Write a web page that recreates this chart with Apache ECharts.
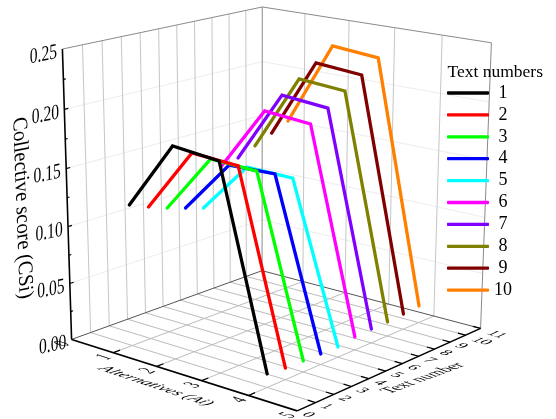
<!DOCTYPE html>
<html><head><meta charset="utf-8">
<style>html,body{margin:0;padding:0;background:#fff}#c{width:556px;height:419px}</style>
<script src="https://cdn.jsdelivr.net/npm/echarts@6/dist/echarts.min.js"></script></head>
<body><div id="c"></div>
<script>
// ---- data ----
const alternatives = [1, 2, 3, 4];
const textNumbers = ['1','2','3','4','5','6','7','8','9','10'];
const text1  = [0.1231, 0.1814, 0.1776, 0.0115];
const text2  = [0.1164, 0.1712, 0.1690, 0.0100];
const text3  = [0.1106, 0.1617, 0.1602, 0.0096];
const text4  = [0.1056, 0.1520, 0.1531, 0.0092];
const text5  = [0.1006, 0.1457, 0.1450, 0.0090];
const text6  = [0.1325, 0.1897, 0.1864, 0.0116];
const text7  = [0.1360, 0.1994, 0.1958, 0.0125];
const text8  = [0.1424, 0.2095, 0.2064, 0.0127];
const text9  = [0.1498, 0.2197, 0.2163, 0.0139];
const text10 = [0.1566, 0.2310, 0.2273, 0.0153];
const allSeries = [text1,text2,text3,text4,text5,text6,text7,text8,text9,text10];
const colors = ['#000000','#ff0000','#00ff00','#0000ff','#00ffff','#ff00ff','#8000ff','#808000','#800000','#ff8000'];
const zTicks = ['0.00','0.05','0.10','0.15','0.20','0.25'];
const aTicks = ['0','1','2','3','4','5'];
const tTicks = ['0','1','2','3','4','5','6','7','8','9','10','11'];
const AMAX = 5, TMAX = 11, ZMAX = 0.25;
// ---- view: perspective camera of the 3D box ----
const P = [198.55342,218.93267,-12.11932,71.59855,34.12505,-39.33231,-292.67307,339.40955,-0.09089,0.10858,-0.04707];
function pr(A,T,Z){
  const a=A/AMAX,t=T/TMAX,c=Z/ZMAX,w=P[8]*a+P[9]*t+P[10]*c+1;
  return [(P[0]*a+P[1]*t+P[2]*c+P[3])/w,(P[4]*a+P[5]*t+P[6]*c+P[7])/w];
}
function seg(p,q){return [...pr(...p),...pr(...q)];}
// ---- grid segments ----
const wallV=[],wallH=[],floorG=[],frame=[],backE=[],axisB=[],ticks=[];
for(let i=1;i<TMAX;i++){wallV.push(seg([0,i,0],[0,i,ZMAX]));floorG.push(seg([0,i,0],[AMAX,i,0]));}
for(let i=1;i<AMAX;i++){wallV.push(seg([i,TMAX,0],[i,TMAX,ZMAX]));floorG.push(seg([i,0,0],[i,TMAX,0]));}
for(let i=1;i<zTicks.length-1;i++){const z=i*0.05;wallH.push(seg([0,0,z],[0,TMAX,z]));wallH.push(seg([0,TMAX,z],[AMAX,TMAX,z]));}
frame.push(seg([0,0,ZMAX],[0,TMAX,ZMAX]),seg([0,TMAX,ZMAX],[AMAX,TMAX,ZMAX]),seg([0,TMAX,0],[0,TMAX,ZMAX]),seg([AMAX,TMAX,0],[AMAX,TMAX,ZMAX]));
backE.push(seg([0,0,0],[0,TMAX,0]),seg([0,TMAX,0],[AMAX,TMAX,0]));
axisB.push(seg([0,0,0],[0,0,ZMAX]),seg([0,0,0],[AMAX,0,0]),seg([AMAX,0,0],[AMAX,TMAX,0]));
for(let i=1;i<aTicks.length-1;i++)ticks.push(seg([i,0,0],[i,0.35,0]));
for(let i=1;i<tTicks.length;i++)ticks.push(seg([AMAX,i,0],[AMAX-0.16,i,0]));
for(let i=1;i<10;i++){const z=i*0.025,len=i%2?0.12:0.2;ticks.push(seg([0,0,z],[0,len,z]));}
// ---- labels ----
const F='"Liberation Serif"';
const labels=[];
function lab(text,x,y,R,D,style){labels.push({text,x,y,R,D,font:(style||'15px ')+F});}
zTicks.forEach((s,i)=>{const p=pr(0,0,i*0.05);lab(s,p[0]-19,p[1]+6,[1.04,-0.21],[0,1.45]);});
aTicks.forEach((s,i)=>{const p=pr(i,0,0);lab(s,p[0]-9,p[1]+4.5,[0.85,-0.36],[1.3,0.43]);});
tTicks.forEach((s,i)=>{const p=pr(AMAX,i,0);const d=s.length>1;lab(s,p[0]+(d?16:11),p[1]+(d?6:4),[1.05,0.33],[-0.85,0.37]);});
lab('Collective score (CSi)',22,208,[0.05,1.36],[-1.4,0.28]);
lab('Alternatives (Ai)',156,386,[1.1,0.37],[-0.9,0.38],'italic 15px ');
lab('Text number',423,378,[1.0,-0.37],[1.1,0.4]);
function svd(R,D){
  const E=(R[0]+D[1])/2,Fv=(R[0]-D[1])/2,G=(R[1]+D[0])/2,H=(R[1]-D[0])/2;
  const Q=Math.hypot(E,H),S=Math.hypot(Fv,G),a1=Math.atan2(G,Fv),a2=Math.atan2(H,E);
  return {sx:Q+S,sy:Q-S,theta:(a2-a1)/2,phi:(a2+a1)/2};
}
function segSeries(list,color,width){
  return {type:'custom',silent:true,clip:false,coordinateSystem:'cartesian2d',encode:{x:[0,2],y:[1,3]},data:list,animation:false,
    renderItem(p,api){
      const a=api.coord([api.value(0),api.value(1)]),b=api.coord([api.value(2),api.value(3)]);
      return {type:'line',shape:{x1:a[0],y1:a[1],x2:b[0],y2:b[1]},style:{stroke:color,lineWidth:width,fill:null}};
    }};
}
const labelSeries={type:'custom',silent:true,clip:false,coordinateSystem:'cartesian2d',animation:false,
  encode:{x:0,y:1},data:labels.map(l=>[l.x,l.y]),z:5,
  renderItem(p,api){
    const l=labels[p.dataIndex],c=api.coord([api.value(0),api.value(1)]),m=svd(l.R,l.D);
    return {type:'group',x:c[0],y:c[1],rotation:-m.phi,scaleX:m.sx,scaleY:m.sy,children:[
      {type:'text',rotation:-m.theta,style:{text:l.text,x:0,y:0,font:l.font,fill:'#000',align:'center',verticalAlign:'middle',textAlign:'center',textVerticalAlign:'middle'}}]};
  }};
const lineSeries=[];
for(let i=allSeries.length-1;i>=0;i--){
  lineSeries.push({type:'line',name:textNumbers[i],silent:true,clip:false,animation:false,symbol:'none',showSymbol:false,z:3,
    color:colors[i],itemStyle:{color:colors[i]},lineStyle:{width:3.3,cap:'round',join:'miter',color:colors[i]},
    data:alternatives.map((A,k)=>pr(A,i+1,allSeries[i][k]))});
}
const chart=echarts.init(document.getElementById('c'),null,{renderer:'canvas'});
chart.setOption({
  animation:false,backgroundColor:'#fff',
  title:{text:'Text numbers',left:447.5,top:63,padding:0,textStyle:{fontFamily:F,fontSize:17.5,fontWeight:'normal',color:'#000'}},
  grid:{left:0,right:0,top:0,bottom:0,containLabel:false},
  xAxis:{type:'value',min:0,max:556,show:false},
  yAxis:{type:'value',min:0,max:419,inverse:true,show:false},
  tooltip:{show:false},
  legend:{data:textNumbers,orient:'vertical',left:447,top:84,padding:0,itemWidth:42,itemHeight:3.3,itemGap:3.9,selectedMode:false,
    icon:'roundRect',
    textStyle:{fontFamily:F,fontSize:18,color:'#000'},
    formatter:n=>n.length<2?' '+n:n},
  series:[segSeries(wallH,'#ededed',1),segSeries(wallV,'#c6c6c6',1),segSeries(floorG,'#bcbcbc',1),segSeries(backE,'#555',1),segSeries(frame,'#8a8a8a',1),
    ...lineSeries,segSeries(axisB,'#000',1.6),segSeries(ticks,'#000',1.2),labelSeries]
});
</script></body></html>
